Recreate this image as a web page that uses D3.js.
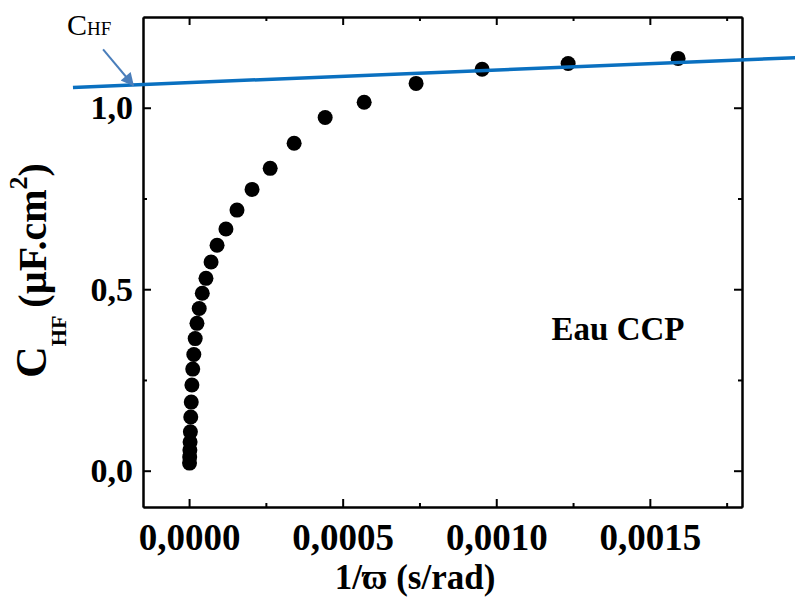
<!DOCTYPE html>
<html>
<head>
<meta charset="utf-8">
<script src="https://cdn.jsdelivr.net/npm/d3@7"></script>
<style>
  body { margin: 0; background: #fff; }
  svg { display: block; }
  text { font-family: "Liberation Serif", "Times New Roman", serif; }
</style>
</head>
<body>
<div class="graph"></div>
<script>
// 1/omega (s/rad) and C_HF (uF.cm2)
var invOmega = [0.0000015, 0.000002, 0.0000026, 0.0000033, 0.0000043, 0.0000055, 0.0000071,
    0.0000092, 0.0000119, 0.0000154, 0.0000199, 0.0000257, 0.000033, 0.000043, 0.000055,
    0.0000716, 0.0000911, 0.000120, 0.000156, 0.000205, 0.000264, 0.000342, 0.000443,
    0.000570, 0.000739, 0.000954, 0.001234, 0.001592];
var cHF = [0.021, 0.038, 0.057, 0.079, 0.107, 0.148, 0.189,
    0.236, 0.280, 0.320, 0.364, 0.406, 0.447, 0.489, 0.530,
    0.575, 0.621, 0.666, 0.718, 0.775, 0.833, 0.902, 0.973,
    1.015, 1.067, 1.106, 1.122, 1.136];

// C_HF straight line (end points)
var fitX = [-0.000378, 0.001973];
var fitY = [1.056, 1.138];

// arrow from the C_HF label to the line
var arrowX = [-0.00028, -0.000182];
var arrowY = [1.161, 1.062];

var xTicks = [0, 0.0005, 0.001, 0.0015];
var xMinor = [0.00025, 0.00075, 0.00125, 0.00175];
var yTicks = [0, 0.5, 1.0];
var yMinor = [0.25, 0.75];
var sampleLabel = 'Eau CCP';

var margin = {top: 17, right: 53, bottom: 93, left: 143},
    width = 795 - margin.left - margin.right,
    height = 600 - margin.top - margin.bottom;

var svg = d3.select('div.graph')
    .append('svg')
        .attr('width', 795)
        .attr('height', 600);

var g = svg.append('g')
    .attr('transform', 'translate(' + margin.left + ',' + margin.top + ')');

var x = d3.scaleLinear().domain([-0.00015, 0.0018]).range([0, width]);
var y = d3.scaleLinear().domain([-0.1, 1.25]).range([height, 0]);

var comma = (f) => (d) => d3.format(f)(d).replace('.', ',');

// bottom axis, labelled
g.append('g')
    .attr('class', 'x axis')
    .attr('transform', 'translate(0,' + height + ')')
    .call(d3.axisBottom(x).tickValues(xTicks).tickSizeInner(-8).tickSizeOuter(0)
        .tickPadding(17).tickFormat(comma('.4f')))
    .selectAll('text')
        .style('font-size', '37px')
        .style('font-weight', 'bold')
        .style('font-family', '"Liberation Serif", "Times New Roman", serif')
        .attr('fill', '#000');
g.append('g')
    .attr('transform', 'translate(0,' + height + ')')
    .call(d3.axisBottom(x).tickValues(xMinor).tickSizeInner(-4).tickSizeOuter(0).tickFormat(''));

// left axis, labelled
g.append('g')
    .attr('class', 'y axis')
    .call(d3.axisLeft(y).tickValues(yTicks).tickSizeInner(-8).tickSizeOuter(0)
        .tickPadding(10).tickFormat(comma('.1f')))
    .selectAll('text')
        .style('font-size', '34px')
        .style('font-weight', 'bold')
        .style('font-family', '"Liberation Serif", "Times New Roman", serif')
        .attr('fill', '#000');
g.append('g')
    .call(d3.axisLeft(y).tickValues(yMinor).tickSizeInner(-4).tickSizeOuter(0).tickFormat(''));

// top and right mirror axes
g.append('g')
    .call(d3.axisTop(x).tickValues(xTicks).tickSizeInner(-8).tickSizeOuter(0).tickFormat(''));
g.append('g')
    .call(d3.axisTop(x).tickValues(xMinor).tickSizeInner(-4).tickSizeOuter(0).tickFormat(''));
g.append('g')
    .attr('transform', 'translate(' + width + ',0)')
    .call(d3.axisRight(y).tickValues(yTicks).tickSizeInner(-8).tickSizeOuter(0).tickFormat(''));
g.append('g')
    .attr('transform', 'translate(' + width + ',0)')
    .call(d3.axisRight(y).tickValues(yMinor).tickSizeInner(-4).tickSizeOuter(0).tickFormat(''));

g.selectAll('.domain').attr('stroke', '#000').attr('stroke-width', 2);
g.selectAll('.tick line').attr('stroke', '#000').attr('stroke-width', 2);

// axis titles
svg.append('text')
    .attr('x', 415)
    .attr('y', 589)
    .attr('text-anchor', 'middle')
    .style('font-size', '35px')
    .style('font-weight', 'bold')
    .text('1/\u03D6 (s/rad)');

var yt = svg.append('text')
    .attr('transform', 'translate(46,378) rotate(-90)')
    .style('font-weight', 'bold');
yt.append('tspan').style('font-size', '44px').text('C');
yt.append('tspan').style('font-size', '22px').attr('dy', 20).text('HF');
yt.append('tspan').style('font-size', '40px').attr('dy', -20).attr('dx', 8).text('(\u00B5F.cm');
yt.append('tspan').style('font-size', '26px').attr('dy', -19).text('2');
yt.append('tspan').style('font-size', '40px').attr('dy', 19).text(')');

// points
g.selectAll('.dot')
    .data(invOmega)
    .enter()
    .append('circle')
        .attr('class', 'dot')
        .attr('cx', (d) => x(d))
        .attr('cy', (d, i) => y(cHF[i]))
        .attr('r', 7.5)
        .attr('fill', '#000');

// C_HF line
g.append('line')
    .attr('x1', x(fitX[0])).attr('y1', y(fitY[0]))
    .attr('x2', x(fitX[1])).attr('y2', y(fitY[1]))
    .attr('stroke', '#0a70c0')
    .attr('stroke-width', 3.5);

// annotation arrow + label
svg.append('defs').append('marker')
    .attr('id', 'ah')
    .attr('viewBox', '0 0 10 10')
    .attr('refX', 9).attr('refY', 5)
    .attr('markerWidth', 16).attr('markerHeight', 13)
    .attr('markerUnits', 'userSpaceOnUse')
    .attr('orient', 'auto')
    .append('path')
        .attr('d', 'M0,0L10,5L0,10z')
        .attr('fill', '#4a7ebb');

g.append('line')
    .attr('x1', x(arrowX[0])).attr('y1', y(arrowY[0]))
    .attr('x2', x(arrowX[1])).attr('y2', y(arrowY[1]))
    .attr('stroke', '#4a7ebb')
    .attr('stroke-width', 2)
    .attr('marker-end', 'url(#ah)');

var lbl = svg.append('text')
    .attr('x', 67)
    .attr('y', 35);
lbl.append('tspan').style('font-size', '30px').text('C');
lbl.append('tspan').style('font-size', '19px').text('HF');

g.append('text')
    .attr('x', x(0.00118))
    .attr('y', y(0.36))
    .style('font-size', '33px')
    .style('font-weight', 'bold')
    .text(sampleLabel);
</script>
</body>
</html>
